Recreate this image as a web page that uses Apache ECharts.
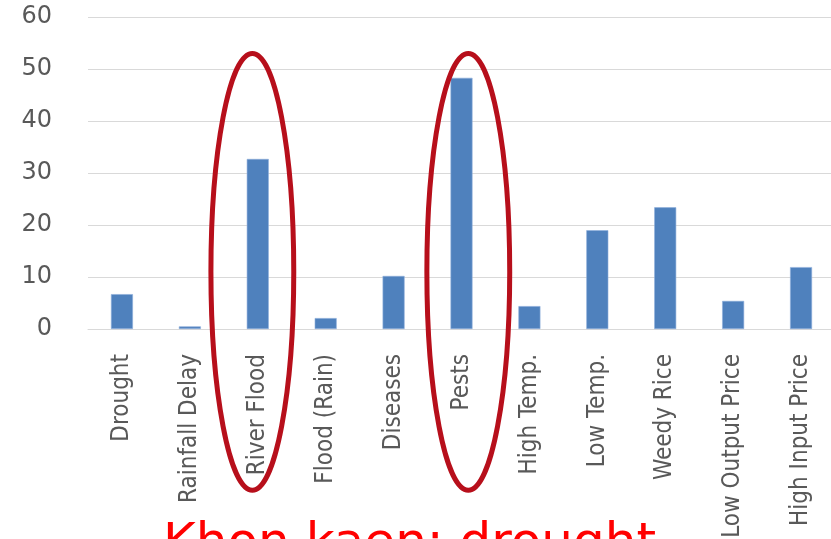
<!DOCTYPE html>
<html>
<head>
<meta charset="utf-8">
<script src="https://cdn.jsdelivr.net/npm/echarts@6/dist/echarts.min.js"></script>
<style>
  html, body { margin: 0; padding: 0; background: #fff; }
  #chart { width: 831px; height: 539px; }
</style>
</head>
<body>
<div id="chart"></div>
<script>
// Risk factors reported for Khon kaen
const categories = ['Drought', 'Rainfall Delay', 'River Flood', 'Flood (Rain)', 'Diseases', 'Pests',
  'High Temp.', 'Low Temp.', 'Weedy Rice', 'Low Output Price', 'High Input Price'];
const values = [6.7, 0.5, 32.7, 2.1, 10.2, 48.3, 4.4, 19.0, 23.4, 5.4, 11.9];
const yTicks = [0, 10, 20, 30, 40, 50, 60];
const titleText = 'Khon kaen: drought';

// Circled categories: name, horizontal offset (in category bands), top and bottom (in axis units)
const circled = [
  { name: 'River Flood', shift: -0.08, top: 53, bottom: -31 },
  { name: 'Pests', shift: 0.1, top: 53, bottom: -31 }
];

const chart = echarts.init(document.getElementById('chart'), null, { renderer: 'canvas' });

chart.setOption({
  animation: false,
  backgroundColor: '#ffffff',
  title: {
    text: titleText,
    left: 158,
    top: 515,
    textStyle: { color: '#ff0000', fontFamily: 'DejaVu Sans', fontWeight: 'normal', fontSize: 50 }
  },
  grid: { left: 88, top: 17, width: 747, height: 312, outerBoundsMode: 'none', containLabel: false },
  xAxis: {
    type: 'category',
    data: categories,
    axisLine: { lineStyle: { color: '#d9d9d9', width: 1 } },
    axisTick: { show: false },
    axisLabel: {
      rotate: 90,
      interval: 0,
      margin: 25,
      color: '#595959',
      fontFamily: '"DejaVu Sans Condensed", sans-serif',
      fontSize: 24
    }
  },
  yAxis: {
    type: 'value',
    min: yTicks[0],
    max: yTicks[yTicks.length - 1],
    interval: 10,
    axisLine: { show: false },
    axisTick: { show: false },
    splitLine: { lineStyle: { color: '#d9d9d9', width: 1 } },
    axisLabel: {
      margin: 36,
      color: '#595959',
      fontFamily: 'DejaVu Sans',
      fontSize: 24
    }
  },
  series: [{
    type: 'bar',
    data: values,
    barWidth: 22,
    itemStyle: { color: '#4f81bd', borderColor: '#8eaedb', borderWidth: 0.6 }
  }]
});

// Red rings around the highlighted bars, positioned from the axes
const band = chart.convertToPixel({ xAxisIndex: 0 }, 1) - chart.convertToPixel({ xAxisIndex: 0 }, 0);
chart.setOption({
  graphic: circled.map(function (c) {
    const idx = categories.indexOf(c.name);
    const cx = chart.convertToPixel({ xAxisIndex: 0 }, idx) + c.shift * band;
    const y1 = chart.convertToPixel({ yAxisIndex: 0 }, c.top);
    const y2 = chart.convertToPixel({ yAxisIndex: 0 }, c.bottom);
    return {
      type: 'ellipse',
      z: 100,
      shape: { cx: cx, cy: (y1 + y2) / 2, rx: band * 0.61, ry: (y2 - y1) / 2 },
      style: { fill: 'none', stroke: '#b70f1b', lineWidth: 5 }
    };
  })
});
</script>
</body>
</html>
